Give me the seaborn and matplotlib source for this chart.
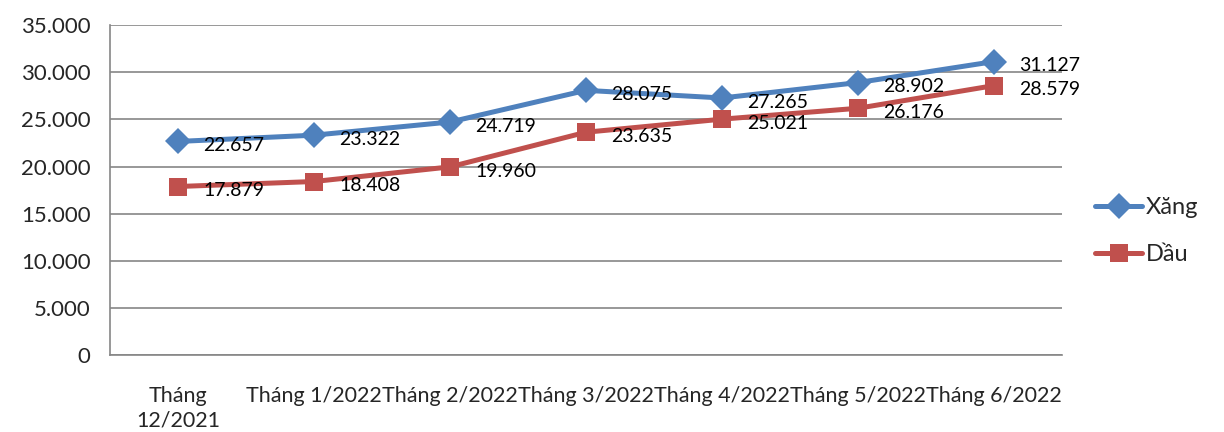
import numpy as np
import pandas as pd
import matplotlib
matplotlib.use("Agg")
import matplotlib.pyplot as plt
import seaborn as sns

months = ["Tháng\n12/2021", "Tháng 1/2022", "Tháng 2/2022", "Tháng 3/2022",
          "Tháng 4/2022", "Tháng 5/2022", "Tháng 6/2022"]
xang = [22657, 23322, 24719, 28075, 27265, 28902, 31127]
dau = [17879, 18408, 19960, 23635, 25021, 26176, 28579]
series = ["Xăng", "Dầu"]

df = pd.DataFrame({
    "pos": list(range(len(months))) * 2,
    "value": xang + dau,
    "series": [series[0]] * len(xang) + [series[1]] * len(dau),
})

sns.set_style("white")
plt.rcParams["font.family"] = ["Lato", "DejaVu Sans"]

fig = plt.figure(figsize=(12.24, 4.32), dpi=100)
ax = fig.add_axes([0.0899, 0.178, 0.7777, 0.764])

palette = {"Xăng": "#4F81BD", "Dầu": "#C0504D"}
sns.lineplot(data=df, x="pos", y="value", hue="series", style="series",
             markers={"Xăng": "D", "Dầu": "s"}, dashes=False,
             palette=palette, linewidth=3.6, markersize=13,
             markeredgewidth=0, ax=ax, legend=True)

def fmt(v):
    return f"{v:,}".replace(",", ".")

for vals in (xang, dau):
    for i, v in enumerate(vals):
        ax.annotate(fmt(v), (i, v), xytext=(18, -3), textcoords="offset points",
                    ha="left", va="center", fontsize=14, color="black")

ax.set_xlim(-0.5, len(months) - 0.5)
ax.set_ylim(0, 35000)
ax.set_yticks(np.arange(0, 35001, 5000))
ax.set_yticklabels([fmt(int(t)) for t in np.arange(0, 35001, 5000)], fontsize=16)
ax.set_xticks(range(len(months)))
ax.set_xticklabels(months, fontsize=15.5, linespacing=1.3)
ax.set_xticks(np.arange(-0.5, len(months), 1.0), minor=True)
ax.tick_params(axis="x", which="major", length=0, pad=22)
ax.tick_params(axis="x", which="minor", length=6, color="#868686", width=1.2)
ax.tick_params(axis="y", length=6, color="#868686", width=1.2, pad=8)
ax.set_xlabel("")
ax.set_ylabel("")

ax.yaxis.grid(True, color="#868686", linewidth=1.2)
ax.set_axisbelow(True)
for s in ("top", "right"):
    ax.spines[s].set_visible(False)
for s in ("left", "bottom"):
    ax.spines[s].set_color("#868686")
    ax.spines[s].set_linewidth(1.2)

handles, labels = ax.get_legend_handles_labels()
ax.legend(handles, labels, loc="center left", bbox_to_anchor=(1.02, 0.375),
          frameon=False, fontsize=17, handlelength=2.0, handletextpad=0.15,
          labelspacing=1.1, borderaxespad=0.2)

fig.savefig("out.png", dpi=100)
